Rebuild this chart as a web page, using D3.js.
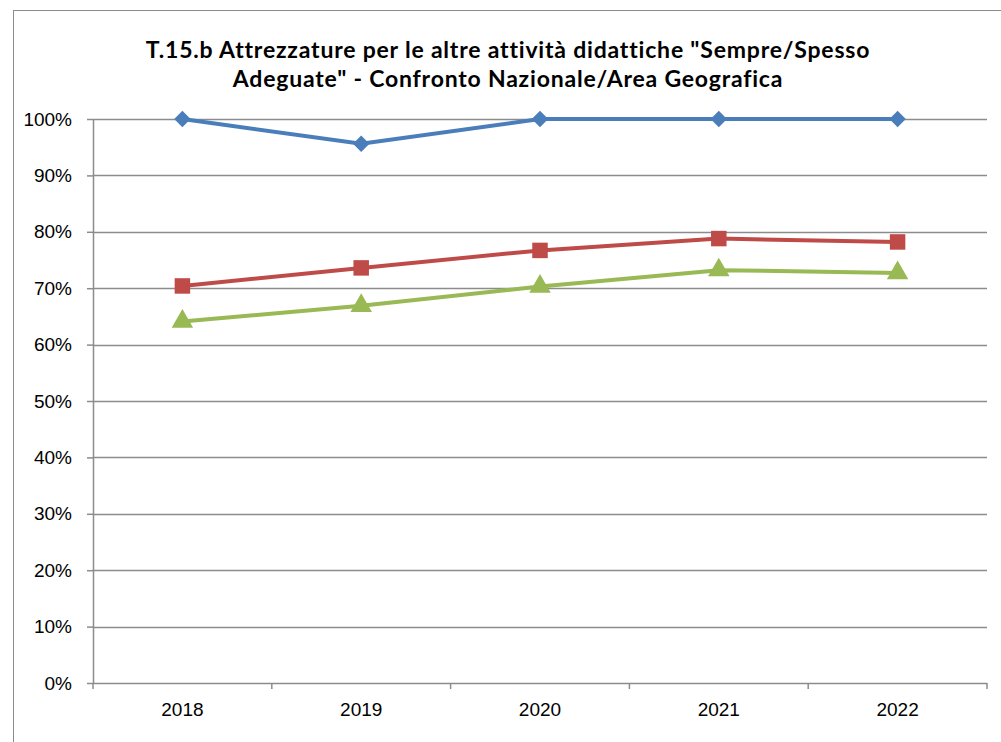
<!DOCTYPE html>
<html>
<head>
<meta charset="utf-8">
<script src="https://cdn.jsdelivr.net/npm/d3@7"></script>
<style>
  body { margin: 0; background: #fff; }
  svg { font-family: Lato, "Open Sans", sans-serif; }
</style>
</head>
<body>
<div id="chart"></div>
<script>
// data
var years = ["2018", "2019", "2020", "2021", "2022"];
var serieA = [1.0, 0.956, 1.0, 1.0, 1.0];
var serieB = [0.704, 0.736, 0.767, 0.788, 0.782];
var serieC = [0.641, 0.669, 0.703, 0.732, 0.727];
var yTicks = [0, 0.1, 0.2, 0.3, 0.4, 0.5, 0.6, 0.7, 0.8, 0.9, 1.0];
var titleLines = ["T.15.b Attrezzature per le altre attività didattiche \"Sempre/Spesso", "Adeguate\" - Confronto Nazionale/Area Geografica"];

var width = 1001, height = 742;
var margin = { top: 119, right: 14, bottom: 59, left: 93 };

var svg = d3.select("#chart")
    .append("svg")
    .attr("width", width)
    .attr("height", height);

// outer frame
svg.append("rect")
    .attr("x", 13.5).attr("y", 10.5)
    .attr("width", 1010).attr("height", 760)
    .attr("fill", "none")
    .attr("stroke", "#8c8c8c")
    .attr("stroke-width", 1);

var x = d3.scaleBand()
    .domain(years)
    .range([margin.left, width - margin.right]);

var y = d3.scaleLinear()
    .domain([0, 1])
    .range([height - margin.bottom, margin.top]);

// gridlines
svg.append("g")
    .selectAll("line")
    .data(yTicks.slice(1))
    .enter()
    .append("line")
    .attr("x1", margin.left).attr("x2", width - margin.right)
    .attr("y1", function (d) { return Math.round(y(d)) + 0.5; })
    .attr("y2", function (d) { return Math.round(y(d)) + 0.5; })
    .attr("stroke", "#8c8c8c")
    .attr("stroke-width", 1.5);

// y axis
var yAxis = svg.append("g")
    .attr("transform", "translate(" + margin.left + ",0)")
    .call(d3.axisLeft(y).tickValues(yTicks).tickFormat(d3.format(".0%")).tickSize(6).tickPadding(15));

// x axis
var xAxis = svg.append("g")
    .attr("transform", "translate(0," + (height - margin.bottom) + ")")
    .call(d3.axisBottom(x).tickSize(0).tickPadding(20));

// x ticks at category boundaries
xAxis.selectAll(".bound")
    .data(years.map(function (d) { return x(d); }).concat([x(years[years.length - 1]) + x.bandwidth()]))
    .enter()
    .append("line")
    .attr("class", "bound")
    .attr("x1", function (d) { return d; }).attr("x2", function (d) { return d; })
    .attr("y1", 0).attr("y2", 6);

[yAxis, xAxis].forEach(function (a) {
    a.selectAll("path, line").attr("stroke", "#8c8c8c").attr("stroke-width", 1.5);
    a.selectAll("text").attr("fill", "#000").style("font-size", "19px");
});
yAxis.select(".domain").attr("d", "M0.5," + y(0) + "V" + y(1));
xAxis.select(".domain").attr("d", "M" + margin.left + ",0.5H" + (width - margin.right));

// title
svg.append("text")
    .attr("text-anchor", "middle")
    .attr("font-weight", "bold")
    .style("font-size", "23px")
    .style("letter-spacing", "0.8px")
    .selectAll("tspan")
    .data(titleLines)
    .enter()
    .append("tspan")
    .attr("x", 508)
    .attr("y", function (d, i) { return 58 + i * 29; })
    .text(function (d) { return d; });

var line = d3.line()
    .x(function (d, i) { return x(years[i]) + x.bandwidth() / 2; })
    .y(function (d) { return y(d); });

// diamond = square turned by 45 degrees
var series = [
    { values: serieA, color: "#4A7EBB", symbol: d3.symbolSquare, size: 135, rot: 45 },
    { values: serieB, color: "#BE4B48", symbol: d3.symbolSquare, size: 240, rot: 0 },
    { values: serieC, color: "#98B954", symbol: d3.symbolTriangle, size: 200, rot: 0 }
];

series.forEach(function (s) {
    svg.append("path")
        .datum(s.values)
        .attr("d", line)
        .attr("fill", "none")
        .attr("stroke", s.color)
        .attr("stroke-width", 4);

    svg.append("g")
        .selectAll("path")
        .data(s.values)
        .enter()
        .append("path")
        .attr("transform", function (d, i) {
            return "translate(" + (x(years[i]) + x.bandwidth() / 2) + "," + y(d) + ") rotate(" + s.rot + ")";
        })
        .attr("d", d3.symbol().type(s.symbol).size(s.size))
        .attr("fill", s.color);
});
</script>
</body>
</html>
